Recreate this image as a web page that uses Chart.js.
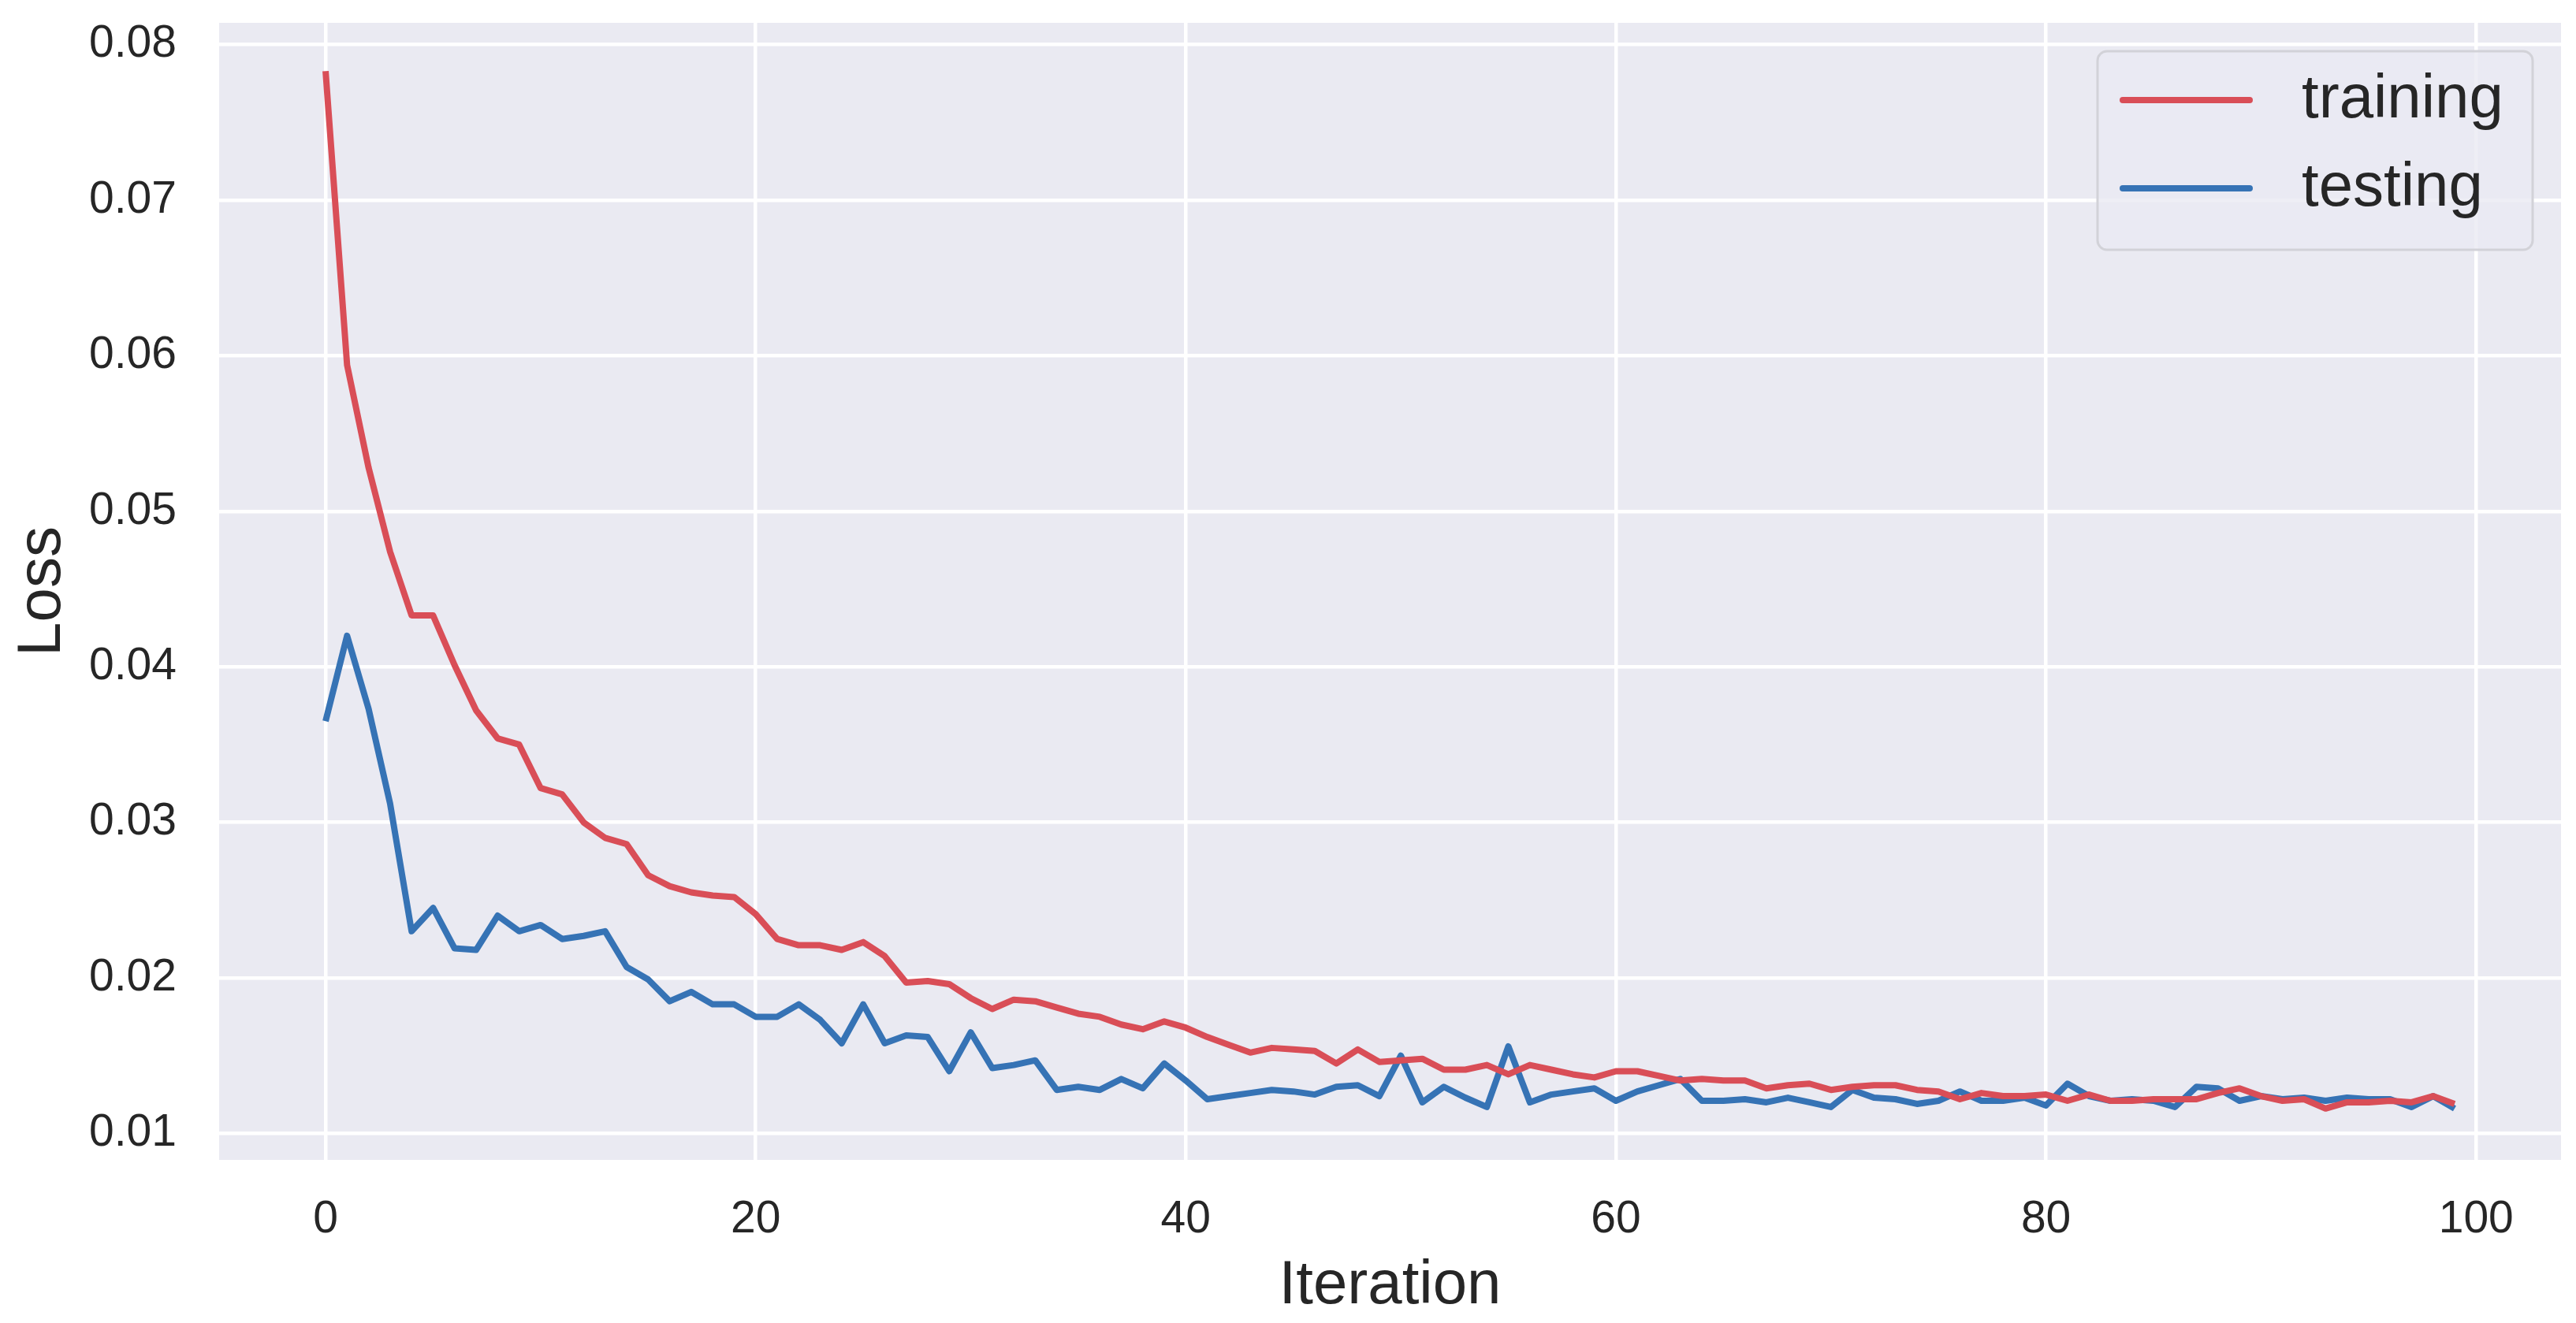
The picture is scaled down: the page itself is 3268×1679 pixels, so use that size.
<!DOCTYPE html>
<html><head><meta charset="utf-8">
<script src="https://cdn.jsdelivr.net/npm/chart.js@4/dist/chart.umd.min.js"></script>
<style>html,body{margin:0;padding:0;background:#fff}#wrap{width:3268px;height:1679px;position:relative}</style>
</head><body><div id="wrap"><canvas id="c" width="3268" height="1679"></canvas></div>
<script>
const iterations = [0,1,2,3,4,5,6,7,8,9,10,11,12,13,14,15,16,17,18,19,20,21,22,23,24,25,26,27,28,29,30,31,32,33,34,35,36,37,38,39,40,41,42,43,44,45,46,47,48,49,50,51,52,53,54,55,56,57,58,59,60,61,62,63,64,65,66,67,68,69,70,71,72,73,74,75,76,77,78,79,80,81,82,83,84,85,86,87,88,89,90,91,92,93,94,95,96,97,98,99];
const training = [0.0783,0.0594,0.0528,0.0474,0.0433,0.0433,0.0401,0.0372,0.0354,0.0350,
0.0322,0.0318,0.0300,0.0290,0.0286,0.0266,0.0259,0.0255,0.0253,0.0252,
0.0241,0.0225,0.0221,0.0221,0.0218,0.0223,0.0214,0.0197,0.0198,0.0196,
0.0187,0.0180,0.0186,0.0185,0.0181,0.0177,0.0175,0.0170,0.0167,0.0172,
0.0168,0.0162,0.0157,0.0152,0.0155,0.0154,0.0153,0.0145,0.0154,0.0146,
0.0147,0.0148,0.0141,0.0141,0.0144,0.0138,0.0144,0.0141,0.0138,0.0136,
0.0140,0.0140,0.0137,0.0134,0.0135,0.0134,0.0134,0.0129,0.0131,0.0132,
0.0128,0.0130,0.0131,0.0131,0.0128,0.0127,0.0122,0.0126,0.0124,0.0124,
0.0125,0.0121,0.0125,0.0121,0.0121,0.0122,0.0122,0.0122,0.0126,0.0129,
0.0124,0.0121,0.0122,0.0116,0.0120,0.0120,0.0121,0.0120,0.0124,0.0119];
const testing = [0.0365,0.0420,0.0373,0.0312,0.0230,0.0245,0.0219,0.0218,0.0240,0.0230,
0.0234,0.0225,0.0227,0.0230,0.0207,0.0199,0.0185,0.0191,0.0183,0.0183,
0.0175,0.0175,0.0183,0.0173,0.0158,0.0183,0.0158,0.0163,0.0162,0.0140,
0.0165,0.0142,0.0144,0.0147,0.0128,0.0130,0.0128,0.0135,0.0129,0.0145,
0.0134,0.0122,0.0124,0.0126,0.0128,0.0127,0.0125,0.0130,0.0131,0.0124,
0.0150,0.0120,0.0130,0.0123,0.0117,0.0156,0.0120,0.0125,0.0127,0.0129,
0.0121,0.0127,0.0131,0.0135,0.0121,0.0121,0.0122,0.0120,0.0123,0.0120,
0.0117,0.0128,0.0123,0.0122,0.0119,0.0121,0.0127,0.0121,0.0121,0.0123,
0.0118,0.0132,0.0124,0.0121,0.0122,0.0121,0.0117,0.0130,0.0129,0.0121,
0.0124,0.0122,0.0123,0.0121,0.0123,0.0122,0.0122,0.0117,0.0124,0.0116];
const xTicks = [0,20,40,60,80,100];
const yTicks = [0.01,0.02,0.03,0.04,0.05,0.06,0.07,0.08];
const seriesLabels = ['training','testing'];
const seriesColors = ['#d94e57','#3673b5'];

const FONT = '"Liberation Sans", Arial, Helvetica, sans-serif';
const TXT = '#262626';

const bgPlugin = {
  id: 'bg',
  beforeDraw(chart) {
    const {ctx, chartArea: a} = chart;
    ctx.save();
    ctx.fillStyle = '#EAEAF2';
    ctx.fillRect(a.left, a.top, a.right - a.left, a.bottom - a.top);
    ctx.restore();
  }
};

const legendPlugin = {
  id: 'boxLegend',
  afterDatasetsDraw(chart) {
    const {ctx, chartArea: a} = chart;
    const w = 552, h = 252;
    const x0 = a.right - 36 - w, y0 = a.top + 36;
    ctx.save();
    ctx.beginPath();
    ctx.roundRect(x0, y0, w, h, 12);
    ctx.fillStyle = 'rgba(234,234,242,0.8)';
    ctx.fill();
    ctx.lineWidth = 3;
    ctx.strokeStyle = '#d2d2d8';
    ctx.stroke();
    chart.data.datasets.forEach((ds, i) => {
      const y = y0 + 62 + i * 112;
      ctx.beginPath();
      ctx.moveTo(x0 + 32, y);
      ctx.lineTo(x0 + 193, y);
      ctx.lineCap = 'round';
      ctx.lineWidth = 8;
      ctx.strokeStyle = ds.borderColor;
      ctx.stroke();
      ctx.fillStyle = TXT;
      ctx.font = '78px ' + FONT;
      ctx.textBaseline = 'middle';
      ctx.textAlign = 'left';
      ctx.fillText(ds.label, x0 + 259, y);
    });
    ctx.restore();
  }
};

const mk = (vals) => iterations.map((x, i) => ({x: x, y: vals[i]}));

new Chart(document.getElementById('c'), {
  type: 'line',
  data: {
    datasets: [
      {label: seriesLabels[0], data: mk(training), borderColor: seriesColors[0], backgroundColor: seriesColors[0], borderWidth: 8, pointRadius: 0, tension: 0, borderJoinStyle: 'round', fill: false},
      {label: seriesLabels[1], data: mk(testing), borderColor: seriesColors[1], backgroundColor: seriesColors[1], borderWidth: 8, pointRadius: 0, tension: 0, borderJoinStyle: 'round', fill: false}
    ]
  },
  plugins: [bgPlugin, legendPlugin],
  options: {
    responsive: false,
    devicePixelRatio: 1,
    animation: false,
    layout: {padding: {top: 29, right: 19, left: 0, bottom: 0}},
    plugins: {legend: {display: false}, tooltip: {enabled: false}},
    scales: {
      x: {
        type: 'linear', min: -4.95, max: 103.95,
        afterBuildTicks: (s) => { s.ticks = xTicks.map(v => ({value: v})); },
        afterFit: (s) => { s.height = 207; s.paddingLeft = 0; s.paddingRight = 0; },
        grid: {color: '#ffffff', lineWidth: 4.5, drawTicks: false},
        border: {display: false},
        ticks: {font: {family: FONT, size: 57}, color: TXT, padding: 42, maxRotation: 0, autoSkip: false, callback: (v) => String(v)},
        title: {display: true, text: 'Iteration', font: {family: FONT, size: 78}, color: TXT, padding: {top: 0, bottom: 0}}
      },
      y: {
        type: 'linear', min: 0.0083, max: 0.0814,
        afterBuildTicks: (s) => { s.ticks = yTicks.map(v => ({value: v})); },
        afterFit: (s) => { s.width = 278; s.paddingTop = 0; s.paddingBottom = 0; },
        grid: {color: '#ffffff', lineWidth: 4.5, drawTicks: false},
        border: {display: false},
        ticks: {font: {family: FONT, size: 57}, color: TXT, padding: 54, autoSkip: false, callback: (v) => v.toFixed(2)},
        title: {display: true, text: 'Loss', font: {family: FONT, size: 78}, color: TXT, padding: {top: 8, bottom: 0}}
      }
    }
  }
});
</script></body></html>
